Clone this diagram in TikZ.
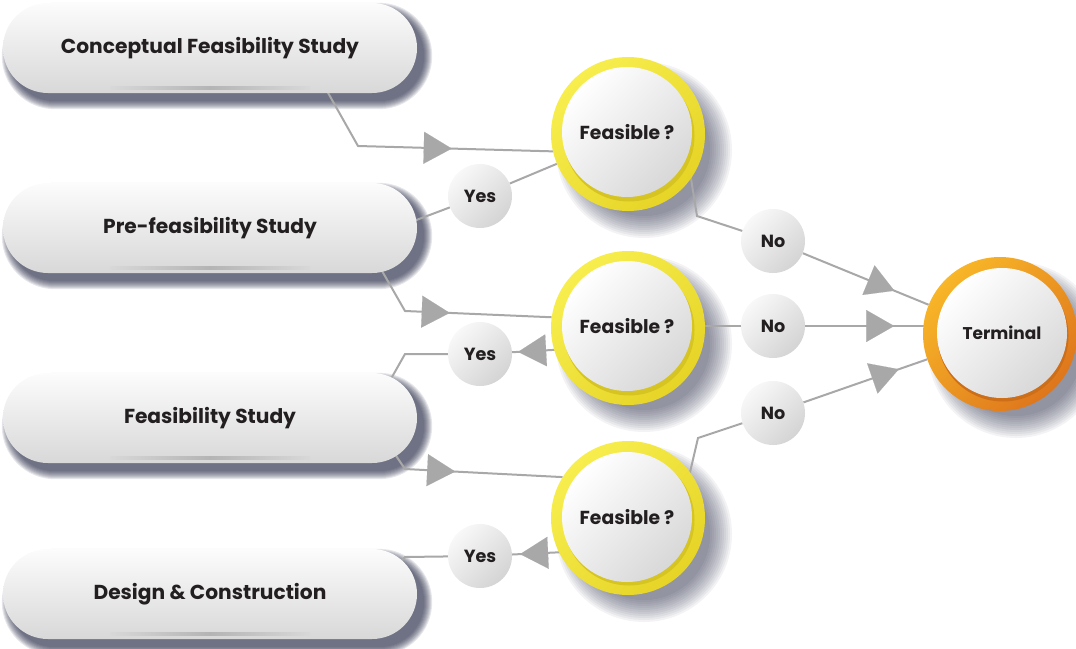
\documentclass[tikz,border=0pt]{standalone}
\usepackage{fontspec}
\setmainfont{Poppins}
\usetikzlibrary{arrows.meta,decorations.markings,calc}
\definecolor{linegray}{RGB}{168,168,168}
\definecolor{shadownavy}{RGB}{34,38,66}
\definecolor{txt}{RGB}{35,31,32}
\definecolor{wtop}{RGB}{252,252,252}
\definecolor{wbot}{RGB}{216,216,216}
\definecolor{band}{RGB}{180,180,180}
\definecolor{ylight}{RGB}{247,238,78}
\definecolor{ydark}{RGB}{230,212,38}
\definecolor{ylip}{RGB}{214,196,34}
\definecolor{olight}{RGB}{248,182,40}
\definecolor{odark}{RGB}{222,118,28}
\definecolor{olip}{RGB}{205,110,25}
\definecolor{btop}{RGB}{248,248,248}
\definecolor{bbot}{RGB}{212,212,212}
\pgfdeclarelayer{shadowlayer}
\pgfdeclarelayer{linelayer}
\pgfsetlayers{shadowlayer,linelayer,main}
\tikzset{
  stagebox/.style={rectangle, rounded corners=45pt, minimum width=414pt, minimum height=90pt,
    inner sep=0pt, top color=wtop, bottom color=wbot, text=txt,
    font=\fontsize{20.2}{24}\selectfont\bfseries},
  yring/.style={circle, minimum size=154pt, inner sep=0pt, top color=ylight, bottom color=ydark, shading angle=45},
  oring/.style={circle, minimum size=154pt, inner sep=0pt, top color=olight, bottom color=odark, shading angle=45},
  ylipstyle/.style={circle, minimum size=131pt, inner sep=0pt, fill=ylip},
  olipstyle/.style={circle, minimum size=131pt, inner sep=0pt, fill=olip},
  disc/.style={circle, minimum size=130pt, inner sep=0pt, top color=white, bottom color=wbot, shading angle=45,
    text=txt, font=\fontsize{18.8}{22}\selectfont\bfseries},
  badge/.style={circle, minimum size=64pt, inner sep=0pt, top color=btop, bottom color=bbot, shading angle=45,
    text=txt, font=\fontsize{17.6}{20}\selectfont\bfseries},
  conn/.style={draw=linegray, line width=2pt},
  arrowat/.style={postaction={decorate, decoration={markings,
      mark=at position #1 with {\arrow[linegray]{Triangle[length=28pt,width=32pt,line width=0.1pt]}}}}}
}
\newcommand{\pillshadow}[1]{%
  \foreach \s in {0,1,...,8}{%
    \pgfmathsetmacro{\rr}{45+\s}%
    \fill[shadownavy, opacity=0.11, rounded corners=\rr pt]
      ($(#1.south west)+(7-\s,8+\s)$) rectangle ($(#1.north east)+(7+\s,8-\s)$);
  }}
\newcommand{\discshadow}[3]{%
  \foreach \s in {0,2,...,22}{%
    \pgfmathsetmacro{\rr}{#2+\s}%
    \fill[shadownavy, opacity=0.055] ($(#1)+(#3,#3)$) circle[radius=\rr pt];
  }}
\begin{document}
\begin{tikzpicture}[x=1pt,y=-1pt]
\useasboundingbox (0,0) rectangle (1076,648);

% stage boxes
\node[stagebox] (b1) at (210,48) {Conceptual Feasibility Study};
\node[stagebox] (b2) at (210,228) {Pre-feasibility Study};
\node[stagebox] (b3) at (210,418) {Feasibility Study};
\node[stagebox] (b4) at (210,594) {Design \& Construction};
\foreach \b in {b1,b2,b3,b4}{
  \shade[left color=wbot, right color=wbot, middle color=band]
    ($(\b.south)+(-100,-7)$) rectangle ($(\b.south)+(100,-4)$);
}

% decision circles
\node[yring] (f1) at (628,134) {};
\node[ylipstyle] (f1l) at (629,136) {};
\node[disc] (f1t) at (627,132) {Feasible ?};
\node[yring] (f2) at (628,328) {};
\node[ylipstyle] (f2l) at (629,330) {};
\node[disc] (f2t) at (627,326) {Feasible ?};
\node[yring] (f3) at (628,518) {};
\node[ylipstyle] (f3l) at (629,520) {};
\node[disc] (f3t) at (627,517) {Feasible ?};
\node[oring] (term) at (1000,334) {};
\node[olipstyle] (terml) at (1003,336) {};
\node[disc, font=\fontsize{17}{20}\selectfont\bfseries] (termt) at (1002,333) {Terminal};

% badges
\node[badge] (yes1) at (480,196) {Yes};
\node[badge] (yes2) at (480,354) {Yes};
\node[badge] (yes3) at (480,556) {Yes};
\node[badge] (no1) at (773,241) {No};
\node[badge] (no2) at (773,326) {No};
\node[badge] (no3) at (773,413) {No};

% bend points
\coordinate (k1) at (358,146);
\coordinate (k4) at (697,216);
\coordinate (k6) at (405,311);
\coordinate (k8) at (405,354);
\coordinate (k10) at (405,469);
\coordinate (k12) at (405,557);
\coordinate (k13) at (698,438);

\begin{pgfonlayer}{shadowlayer}
  \foreach \b in {b1,b2,b3,b4}{\pillshadow{\b}}
  \discshadow{f1}{66}{16}
  \discshadow{f2}{66}{16}
  \discshadow{f3}{66}{16}
  \discshadow{term}{66}{16}
\end{pgfonlayer}

\begin{pgfonlayer}{linelayer}
  \draw[conn, arrowat=159pt] ($(b1.south)+(116,-4)$) -- (k1) -- (f1.193);
  \draw[conn, arrowat=117pt] (f1) -- (yes1);
  \draw[conn] (yes1) -- ($(b2.east)+(-22,0)$);
  \draw[conn] ($(f1)+(60,26)$) -- (k4) -- (no1);
  \draw[conn, arrowat=99pt] (no1) -- (term);
  \draw[conn, arrowat=101pt] ($(b2.south)+(167,-11)$) -- (k6) -- (f2.172);
  \draw[conn, arrowat=70pt] ($(f2)+(-40,20)$) -- (yes2);
  \draw[conn] (yes2) -- (k8) -- ($(b3.north east)+(-33,18)$);
  \draw[conn] (f2t) -- (no2);
  \draw[conn, arrowat=89pt] (no2) -- (no2 -| term);
  \draw[conn, arrowat=73pt] ($(b3.south east)+(-25,-13)$) -- (k10) -- (f3.148);
  \draw[conn, arrowat=67pt] ($(f3)+(-41,33)$) -- (yes3);
  \draw[conn] (yes3) -- (k12) -- ($(b4.north east)+(-32,30)$);
  \draw[conn] ($(f3)+(56,-20)$) -- (k13) -- (no3);
  \draw[conn, arrowat=101pt] (no3) -- (term);
\end{pgfonlayer}
\end{tikzpicture}
\end{document}
